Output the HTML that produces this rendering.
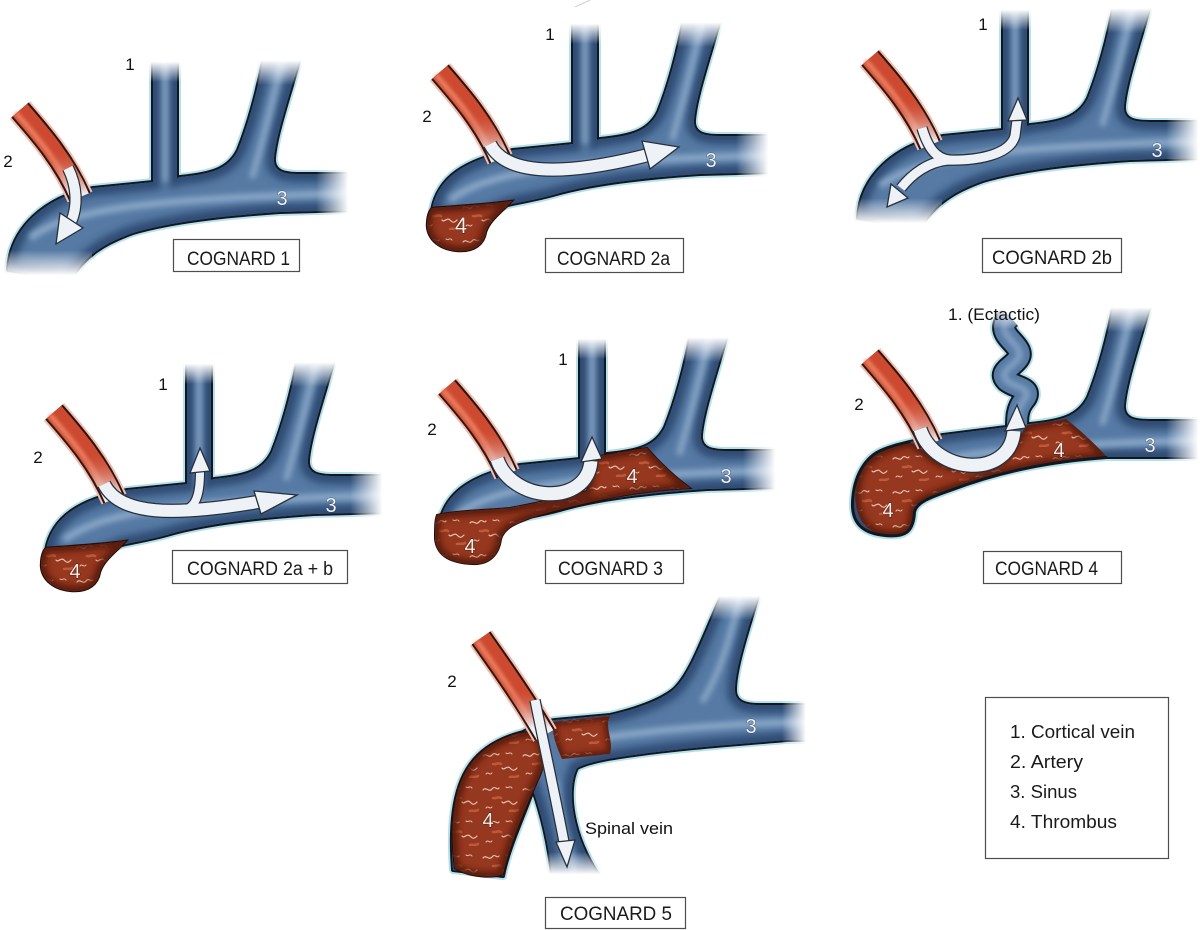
<!DOCTYPE html>
<html>
<head>
<meta charset="utf-8">
<style>
html,body{margin:0;padding:0;background:#fff;}
svg{display:block;}
.halo{fill:none;stroke:#b6e1ea;stroke-width:8;stroke-linejoin:round;}
.blk{fill:none;stroke:#121820;stroke-width:4;stroke-linejoin:round;}
.fb{fill:#567aa4;}
.inner{fill:none;stroke:#2d4b73;stroke-width:16;}
.lb{font-family:"Liberation Sans",sans-serif;font-size:17px;fill:#111;}
.wl{font-family:"Liberation Sans",sans-serif;font-size:20px;fill:#f2f6fa;stroke:#2b3f5a;stroke-width:0.8;paint-order:stroke;text-anchor:middle;}
.wr{font-family:"Liberation Sans",sans-serif;font-size:20px;fill:#f6eee8;stroke:#4a1208;stroke-width:0.9;paint-order:stroke;text-anchor:middle;}
.bx{fill:#fff;stroke:#4d4d4d;stroke-width:1.2;}
.bt{font-family:"Liberation Sans",sans-serif;font-size:19px;fill:#1a1a1a;}
.lg{font-family:"Liberation Sans",sans-serif;font-size:18px;fill:#1a1a1a;}
</style>
</head>
<body>
<svg width="1200" height="930" viewBox="0 0 1200 930" xmlns="http://www.w3.org/2000/svg">
<defs>
  <filter id="b3" filterUnits="userSpaceOnUse" x="-100" y="-100" width="1400" height="1200"><feGaussianBlur stdDeviation="3"/></filter>
  <filter id="b4" filterUnits="userSpaceOnUse" x="-100" y="-100" width="1400" height="1200"><feGaussianBlur stdDeviation="4"/></filter>
  <filter id="b15" filterUnits="userSpaceOnUse" x="-100" y="-100" width="1400" height="1200"><feGaussianBlur stdDeviation="1.5"/></filter>

  <linearGradient id="fT" x1="0" y1="0" x2="0" y2="1">
    <stop offset="0" stop-color="#fff" stop-opacity="1"/>
    <stop offset="0.45" stop-color="#fff" stop-opacity="1"/>
    <stop offset="1" stop-color="#fff" stop-opacity="0"/>
  </linearGradient>
  <linearGradient id="fR" x1="0" y1="0" x2="1" y2="0">
    <stop offset="0" stop-color="#fff" stop-opacity="0"/>
    <stop offset="0.6" stop-color="#fff" stop-opacity="1"/>
    <stop offset="1" stop-color="#fff" stop-opacity="1"/>
  </linearGradient>
  <linearGradient id="fB" x1="0" y1="0" x2="0" y2="1">
    <stop offset="0" stop-color="#fff" stop-opacity="0"/>
    <stop offset="0.7" stop-color="#fff" stop-opacity="1"/>
    <stop offset="1" stop-color="#fff" stop-opacity="1"/>
  </linearGradient>
  <linearGradient id="rw" gradientUnits="userSpaceOnUse" x1="0" y1="150" x2="0" y2="194">
    <stop offset="0" stop-color="#d24c32" stop-opacity="0"/>
    <stop offset="1" stop-color="#eef0f3" stop-opacity="1"/>
  </linearGradient>
  <linearGradient id="rw5" gradientUnits="userSpaceOnUse" x1="0" y1="688" x2="0" y2="728">
    <stop offset="0" stop-color="#d24c32" stop-opacity="0"/>
    <stop offset="1" stop-color="#eef0f3" stop-opacity="1"/>
  </linearGradient>

  <pattern id="tex" patternUnits="userSpaceOnUse" width="40" height="34">
    <g fill="none" stroke-linecap="round">
      <path d="M3,8 c3,-4 6,3 9,-1 s5,2 7,-1" stroke="#f6dcc6" stroke-width="1.2" opacity=".85"/>
      <path d="M22,20 c2,3 5,-3 8,0 s4,3 7,0" stroke="#f6dcc6" stroke-width="1.2" opacity=".85"/>
      <path d="M6,26 c2,-3 4,2 6,-1" stroke="#f6dcc6" stroke-width="1.1" opacity=".8"/>
      <path d="M26,5 c2,2 4,-2 6,1" stroke="#f6dcc6" stroke-width="1.1" opacity=".8"/>
      <path d="M13,16 c3,1 5,-2 8,0" stroke="#d8714c" stroke-width="2.5" opacity=".6"/>
      <path d="M30,29 c3,-1 5,1 8,-1" stroke="#d8714c" stroke-width="2.5" opacity=".6"/>
    </g>
  </pattern>

  <path id="s1" d="M 8,270 C 10,228 45,197 93,188 L 153,182 L 153,58 L 177,58 L 177,178 L 180,177 C 210,174 228,170 238,150 C 248,125 258,90 264,55 L 300,58 C 288,100 276,135 274,158 C 273,172 285,174 300,174 L 356,174 L 356,210 L 280,212 C 220,216 170,222 133,233 C 105,243 85,255 70,280 Z"/>
  <path id="s2" d="M 12,248 C 18,215 45,198 93,188 L 153,182 L 153,58 L 177,58 L 177,178 L 180,177 C 210,174 228,170 238,150 C 248,125 258,90 264,55 L 300,58 C 288,100 276,135 274,158 C 273,172 285,174 300,174 L 356,174 L 356,210 L 280,212 C 220,216 170,222 133,233 C 115,238 100,240 88,243 L 60,254 L 15,254 Z"/>
  <path id="s4" d="M 60,195 L 93,188 L 180,177 C 210,174 228,170 238,150 C 248,125 258,90 264,55 L 300,58 C 288,100 276,135 274,158 C 273,172 285,174 300,174 L 356,174 L 356,210 L 257,210 C 200,214 150,224 100,243 C 80,250 66,255 64,265 C 63,285 55,290 35,288 C 12,286 2,275 3,255 C 4,230 15,210 33,203 C 45,198 52,197 60,195 Z"/>
  <path id="wv" d="M 160,70 C 140,88 178,98 168,112 C 160,122 148,125 157,134 C 166,141 184,141 174,153 C 166,163 167,172 167,192"/>
  <path id="s5" d="M 523,732 C 535,725 545,721 555,720 L 610,715 C 640,708 660,700 673,690 C 690,675 702,640 726,585 L 760,590 C 746,635 735,670 735,690 C 735,702 745,705 760,705 L 812,705 L 812,740 L 787,740 C 740,744 680,748 620,757 C 600,760 587,763 577,768 C 566,790 572,835 598,874 L 552,874 C 548,840 540,810 533,790 C 522,820 508,850 503,876 L 453,870 C 450,830 452,790 470,765 C 482,748 500,738 523,732 Z"/>

  <path id="t2" d="M 12,246 C 40,244 70,242 92,239 C 82,250 70,258 66,270 C 64,282 55,290 38,289 C 20,288 8,278 7,264 C 7,255 9,249 12,246 Z"/>
  <path id="t3" d="M 10,238 C 25,234 60,233 83,231 C 110,226 140,219 160,214 C 163,200 165,188 166,180 C 185,177 205,173 220,171 C 233,186 248,200 263,211 C 230,213 200,217 173,223 C 150,228 125,234 106,240 C 90,246 78,250 74,262 C 72,278 62,288 45,287 C 25,286 10,280 8,262 C 8,250 8,243 10,238 Z"/>
  <path id="t4" d="M 60,195 C 45,198 20,205 10,225 C 0,250 5,285 35,288 C 55,290 63,285 64,265 C 66,255 80,250 100,243 C 150,224 200,214 257,210 C 245,197 230,183 216,172 C 205,174 190,176 178,178 C 170,186 165,200 155,210 C 140,220 110,224 90,215 C 78,208 70,200 60,195 Z"/>
  <path id="t5a" d="M 520,733 C 500,738 482,748 470,765 C 452,790 450,830 455,868 C 470,878 495,878 503,874 C 508,850 522,815 540,775 C 548,755 545,738 530,732 Z"/>
  <path id="t5b" d="M 553,722 L 610,716 C 604,728 614,740 610,754 L 562,759 C 556,745 552,735 553,722 Z"/>

  <clipPath id="c1"><use href="#s1"/></clipPath>
  <clipPath id="c2"><use href="#s2"/></clipPath>
  <clipPath id="c4"><use href="#s4"/></clipPath>
  <clipPath id="c5"><use href="#s5"/></clipPath>
  <clipPath id="ct2"><use href="#t2"/></clipPath>
  <clipPath id="ct3"><use href="#t3"/></clipPath>
  <clipPath id="ct4"><use href="#t4"/></clipPath>
  <clipPath id="ct5a"><use href="#t5a"/></clipPath>
  <clipPath id="ct5b"><use href="#t5b"/></clipPath>

  <g id="hl" fill="none" stroke="#8aa7c7" filter="url(#b3)">
    <path d="M 30,238 C 70,208 150,199 356,193" stroke-width="7"/>
    <path d="M 165,58 L 165,182" stroke-width="5"/>
    <path d="M 283,55 C 273,100 263,140 252,178" stroke-width="6"/>
  </g>
  <g id="fades">
    <rect x="140" y="45" width="50" height="37" fill="url(#fT)"/>
    <rect x="248" y="40" width="68" height="45" fill="url(#fT)"/>
    <rect x="316" y="160" width="54" height="62" fill="url(#fR)"/>
  </g>

  <g id="B1">
    <use href="#s1" class="halo"/>
    <use href="#s1" class="blk"/>
    <use href="#s1" class="fb"/>
    <g clip-path="url(#c1)">
      <use href="#s1" class="inner" filter="url(#b4)"/>
      <use href="#hl"/>
    </g>
    <use href="#fades"/>
    <rect x="0" y="250" width="92" height="36" fill="url(#fB)"/>
  </g>
  <g id="B2">
    <use href="#s2" class="halo"/>
    <use href="#s2" class="blk"/>
    <use href="#s2" class="fb"/>
    <g clip-path="url(#c2)">
      <use href="#s2" class="inner" filter="url(#b4)"/>
      <use href="#hl"/>
    </g>
    <use href="#fades"/>
  </g>

  <g id="T2">
    <use href="#t2" fill="none" stroke="#2a0c06" stroke-width="2.4"/>
    <use href="#t2" fill="#96371f"/>
    <use href="#t2" fill="url(#tex)"/>
    <g clip-path="url(#ct2)"><use href="#t2" fill="none" stroke="#5a1a0b" stroke-width="10" filter="url(#b3)"/></g>
  </g>

  <g id="art" fill="none">
    <path d="M 20,110 C 40,133 64,160 80,197" stroke="#f1beb0" stroke-width="27"/>
    <path d="M 20,110 C 40,133 64,160 80,197" stroke="#2a1410" stroke-width="23"/>
    <path d="M 20,110 C 40,133 64,160 80,197" stroke="#cd4a30" stroke-width="19"/>
    <path d="M 16,113 C 36,136 59,162 74,196" stroke="#ea7c5e" stroke-width="5" filter="url(#b15)"/>
    <path d="M 55,152 C 63,164 72,178 80,197" stroke="url(#rw)" stroke-width="19"/>
  </g>
</defs>

<rect width="1200" height="930" fill="#fff"/>
<path d="M 560,14 Q 575,7 590,0" fill="none" stroke="#cfcfcf" stroke-width="1"/>
<path d="M 718,600 Q 735,592 752,597" fill="none" stroke="#e2e2e2" stroke-width="2"/>

<!-- Panel 1 -->
<g>
  <use href="#B1"/>
  <use href="#art"/>
  <path d="M 68,168 C 77,186 78,206 71,222" fill="none" stroke="#26303c" stroke-width="12.5"/>
  <path d="M 68,168 C 77,186 78,206 71,222" fill="none" stroke="#eef1f5" stroke-width="10"/>
  <polygon points="56,244 83,228 60,213" fill="#eef1f5" stroke="#26303c" stroke-width="1.3"/>
</g>

<!-- Panel 2a -->
<g transform="translate(420,-38)">
  <use href="#B2"/>
  <use href="#T2"/>
  <use href="#art"/>
  <path d="M 70,182 C 86,214 145,214 228,193" fill="none" stroke="#26303c" stroke-width="14.5"/>
  <path d="M 70,182 C 86,214 145,214 228,193" fill="none" stroke="#eef1f5" stroke-width="12"/>
  <polygon points="259,185 230,207 222,179" fill="#eef1f5" stroke="#26303c" stroke-width="1.3"/>
</g>

<!-- Panel 2b -->
<g transform="translate(850,-52)">
  <use href="#B1"/>
  <use href="#art"/>
  <g fill="none" stroke="#26303c" stroke-width="11.5">
    <path d="M 72,180 C 78,200 86,211 100,212"/>
    <path d="M 96,212 C 130,213 160,206 165,188 L 167,172"/>
    <path d="M 98,212 C 78,214 62,226 51,240"/>
  </g>
  <g fill="none" stroke="#eef1f5" stroke-width="9">
    <path d="M 72,180 C 78,200 86,211 100,212"/>
    <path d="M 96,212 C 130,213 160,206 165,188 L 167,172"/>
    <path d="M 98,212 C 78,214 62,226 51,240"/>
  </g>
  <polygon points="168,150 158,173 177,172" fill="#eef1f5" stroke="#26303c" stroke-width="1.3"/>
  <polygon points="37,259 58,250 41,236" fill="#eef1f5" stroke="#26303c" stroke-width="1.3"/>
</g>

<!-- Panel 2a+b -->
<g transform="translate(34,302)">
  <use href="#B2"/>
  <use href="#T2"/>
  <use href="#art"/>
  <g fill="none" stroke="#26303c">
    <path d="M 70,182 C 86,214 140,214 224,200" stroke-width="14.5"/>
    <path d="M 145,210 C 160,207 166,198 166,170" stroke-width="10.5"/>
  </g>
  <g fill="none" stroke="#eef1f5">
    <path d="M 70,182 C 86,214 140,214 224,200" stroke-width="12"/>
    <path d="M 145,210 C 160,207 166,198 166,170" stroke-width="8"/>
  </g>
  <polygon points="263,193 227,212 220,189" fill="#eef1f5" stroke="#26303c" stroke-width="1.3"/>
  <polygon points="166,146 156,171 176,169" fill="#eef1f5" stroke="#26303c" stroke-width="1.3"/>
</g>

<!-- Panel 3 -->
<g transform="translate(427,277)">
  <use href="#B2"/>
  <use href="#t3" fill="none" stroke="#2a0c06" stroke-width="2"/>
  <use href="#t3" fill="#96371f"/>
  <use href="#t3" fill="url(#tex)"/>
  <g clip-path="url(#ct3)"><use href="#t3" fill="none" stroke="#5a1a0b" stroke-width="10" filter="url(#b3)"/></g>
  <use href="#art"/>
  <path d="M 70,182 C 85,226 160,230 164,184" fill="none" stroke="#26303c" stroke-width="15.5"/>
  <path d="M 70,182 C 85,226 160,230 164,184" fill="none" stroke="#eef1f5" stroke-width="13"/>
  <polygon points="165,160 154,185 175,182" fill="#eef1f5" stroke="#26303c" stroke-width="1.3"/>
</g>

<!-- Panel 4 -->
<g transform="translate(850,247)">
  <use href="#wv" fill="none" stroke="#b6e1ea" stroke-width="28"/>
  <use href="#s4" class="halo"/>
  <use href="#wv" fill="none" stroke="#121820" stroke-width="24"/>
  <use href="#s4" class="blk"/>
  <use href="#wv" fill="none" stroke="#567aa4" stroke-width="20"/>
  <use href="#wv" fill="none" stroke="#86a3c4" stroke-width="6" filter="url(#b3)"/>
  <use href="#s4" class="fb"/>
  <g clip-path="url(#c4)">
    <use href="#s4" class="inner" filter="url(#b4)"/>
    <g fill="none" stroke="#8aa7c7" filter="url(#b3)">
      <path d="M 30,238 C 70,208 150,199 356,193" stroke-width="7"/>
      <path d="M 283,55 C 273,100 263,140 252,178" stroke-width="6"/>
    </g>
    <use href="#t4" fill="#96371f"/>
    <use href="#t4" fill="url(#tex)"/>
    <g clip-path="url(#ct4)"><use href="#t4" fill="none" stroke="#5a1a0b" stroke-width="10" filter="url(#b3)"/></g>
  </g>
  <path d="M 257,210 C 200,214 150,224 100,243 C 80,250 66,255 64,265 C 63,285 55,290 35,288 C 12,286 2,275 3,255 C 4,230 15,210 33,203 C 45,198 52,197 60,195" fill="none" stroke="#121820" stroke-width="2"/>
  <use href="#fades"/>
  <use href="#art"/>
  <path d="M 70,182 C 85,228 160,232 164,184" fill="none" stroke="#26303c" stroke-width="15.5"/>
  <path d="M 70,182 C 85,228 160,232 164,184" fill="none" stroke="#eef1f5" stroke-width="13"/>
  <polygon points="167,158 155,184 176,181" fill="#eef1f5" stroke="#26303c" stroke-width="1.3"/>
</g>

<!-- Panel 5 -->
<g>
  <use href="#s5" class="halo"/>
  <use href="#s5" class="blk"/>
  <use href="#s5" class="fb"/>
  <g clip-path="url(#c5)">
    <use href="#s5" class="inner" filter="url(#b4)"/>
    <g fill="none" stroke="#8aa7c7" filter="url(#b3)">
      <path d="M 600,738 C 650,731 720,723 812,722" stroke-width="7"/>
      <path d="M 742,588 C 732,630 722,670 702,702" stroke-width="6"/>
      <path d="M 556,780 C 560,810 565,840 575,875" stroke-width="4"/>
    </g>
  </g>
  <rect x="705" y="576" width="70" height="44" fill="url(#fT)"/>
  <rect x="782" y="693" width="40" height="60" fill="url(#fR)"/>
  <rect x="540" y="852" width="70" height="32" fill="url(#fB)"/>

  <use href="#t5a" fill="none" stroke="#2a0c06" stroke-width="2.2"/>
  <use href="#t5a" fill="#96371f"/>
  <use href="#t5a" fill="url(#tex)"/>
  <g clip-path="url(#ct5a)"><use href="#t5a" fill="none" stroke="#5a1a0b" stroke-width="10" filter="url(#b3)"/></g>
  <use href="#t5b" fill="#96371f"/>
  <use href="#t5b" fill="url(#tex)"/>
  <g clip-path="url(#ct5b)"><use href="#t5b" fill="none" stroke="#5a1a0b" stroke-width="8" filter="url(#b3)"/></g>

  <g fill="none">
    <path d="M 481,638 C 500,665 525,700 545,735" stroke="#f1beb0" stroke-width="27"/>
    <path d="M 481,638 C 500,665 525,700 545,735" stroke="#2a1410" stroke-width="23"/>
    <path d="M 481,638 C 500,665 525,700 545,735" stroke="#cd4a30" stroke-width="19"/>
    <path d="M 477,641 C 496,668 520,702 540,735" stroke="#ea7c5e" stroke-width="5" filter="url(#b15)"/>
    <path d="M 515,688 C 525,702 535,718 545,735" stroke="url(#rw5)" stroke-width="19"/>
  </g>
  <path d="M 535,700 C 545,750 556,800 564,842" fill="none" stroke="#26303c" stroke-width="11.5"/>
  <path d="M 535,700 C 545,750 556,800 564,842" fill="none" stroke="#eef1f5" stroke-width="9"/>
  <polygon points="567,867 556,842 575,840" fill="#eef1f5" stroke="#26303c" stroke-width="1.3"/>
</g>

<!-- dark labels -->
<text class="lb" x="130" y="70" text-anchor="middle">1</text>
<text class="lb" x="8" y="167" text-anchor="middle">2</text>
<text class="lb" x="550" y="40" text-anchor="middle">1</text>
<text class="lb" x="427" y="122" text-anchor="middle">2</text>
<text class="lb" x="983" y="30" text-anchor="middle">1</text>
<text class="lb" x="163" y="390" text-anchor="middle">1</text>
<text class="lb" x="38" y="463" text-anchor="middle">2</text>
<text class="lb" x="563" y="365" text-anchor="middle">1</text>
<text class="lb" x="432" y="435" text-anchor="middle">2</text>
<text class="lb" x="859" y="410" text-anchor="middle">2</text>
<text class="lb" x="452" y="687" text-anchor="middle">2</text>
<text class="lb" x="948" y="320" textLength="92" lengthAdjust="spacingAndGlyphs">1. (Ectactic)</text>
<text class="lb" x="585" y="834" textLength="88" lengthAdjust="spacingAndGlyphs">Spinal vein</text>

<!-- white labels -->
<text class="wl" x="282" y="205">3</text>
<text class="wl" x="711" y="167">3</text>
<text class="wl" x="1157" y="157">3</text>
<text class="wl" x="331" y="512">3</text>
<text class="wl" x="726" y="483">3</text>
<text class="wl" x="1150" y="452">3</text>
<text class="wl" x="751" y="733">3</text>
<text class="wr" x="461" y="233" style="font-size:22px">4</text>
<text class="wr" x="75" y="578">4</text>
<text class="wr" x="632" y="483">4</text>
<text class="wr" x="470" y="553">4</text>
<text class="wr" x="1059" y="457">4</text>
<text class="wr" x="888" y="517">4</text>
<text class="wr" x="488" y="827">4</text>

<!-- boxes -->
<rect class="bx" x="173.5" y="239.5" width="126" height="32"/>
<text class="bt" x="187" y="265" textLength="103" lengthAdjust="spacingAndGlyphs">COGNARD 1</text>
<rect class="bx" x="545.5" y="238.5" width="138" height="34"/>
<text class="bt" x="557" y="265" textLength="113" lengthAdjust="spacingAndGlyphs">COGNARD 2a</text>
<rect class="bx" x="982.5" y="238.5" width="139" height="34"/>
<text class="bt" x="992" y="264" textLength="120" lengthAdjust="spacingAndGlyphs">COGNARD 2b</text>
<rect class="bx" x="172.5" y="550.5" width="175" height="33"/>
<text class="bt" x="187" y="575" textLength="146" lengthAdjust="spacingAndGlyphs">COGNARD 2a + b</text>
<rect class="bx" x="545.5" y="550.5" width="138" height="33"/>
<text class="bt" x="558" y="575" textLength="105" lengthAdjust="spacingAndGlyphs">COGNARD 3</text>
<rect class="bx" x="983.5" y="551.5" width="138" height="32"/>
<text class="bt" x="995" y="575" textLength="103" lengthAdjust="spacingAndGlyphs">COGNARD 4</text>
<rect class="bx" x="545.5" y="897.5" width="140" height="31"/>
<text class="bt" x="560" y="920" textLength="112" lengthAdjust="spacingAndGlyphs">COGNARD 5</text>

<!-- legend -->
<rect class="bx" x="985.5" y="697.5" width="183" height="161"/>
<text class="lg" x="1010" y="738" textLength="125" lengthAdjust="spacingAndGlyphs">1. Cortical vein</text>
<text class="lg" x="1010" y="768" textLength="73" lengthAdjust="spacingAndGlyphs">2. Artery</text>
<text class="lg" x="1010" y="798" textLength="67" lengthAdjust="spacingAndGlyphs">3. Sinus</text>
<text class="lg" x="1010" y="828" textLength="107" lengthAdjust="spacingAndGlyphs">4. Thrombus</text>
</svg>
</body>
</html>
